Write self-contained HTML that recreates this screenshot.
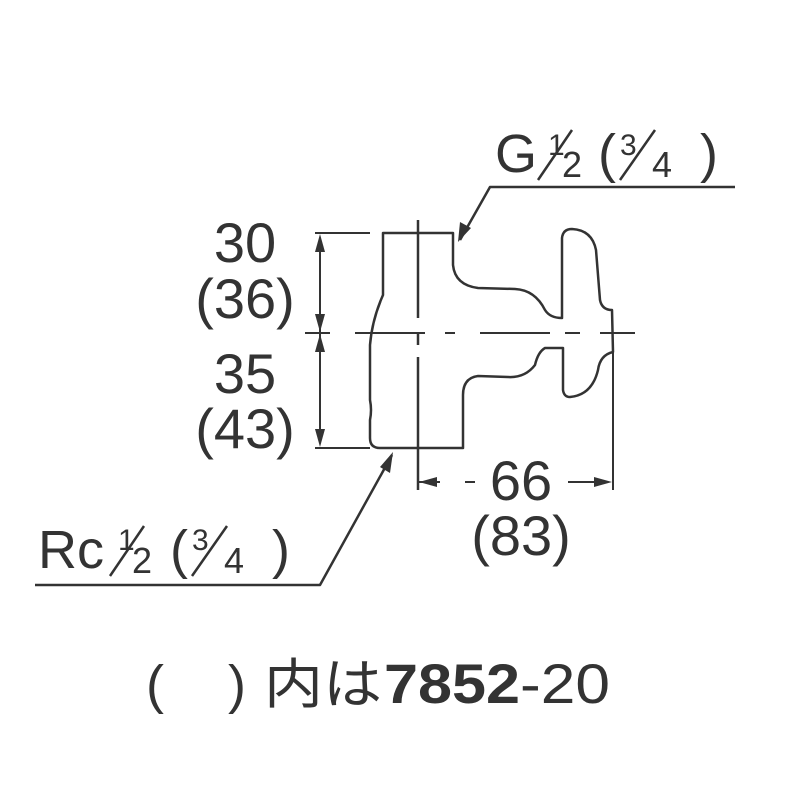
<!DOCTYPE html>
<html><head><meta charset="utf-8"><style>html,body{margin:0;padding:0;background:#fff}</style></head>
<body>
<svg width="800" height="800" viewBox="0 0 800 800" xmlns="http://www.w3.org/2000/svg" font-family="'Liberation Sans','Noto Sans CJK JP',sans-serif" fill="#333">
<g fill="none" stroke="#333" stroke-width="2.5" stroke-linejoin="round">
<path d="M383,233 L453,233 L453,265 Q455,285 478,288 L515,289 Q535,290 545,310 Q550,318 562,318 L562,238 Q563,229 572,229 Q592,230 596,250 L600,300 Q602,310 612,310 L613,352 Q600,355 598,370 Q592,395 570,397 Q564,397 563,390 L563,348 L545,348 Q538,352 535,365 Q525,378 508,377 L478,376 Q463,378 463,395 L463,448 L380,448 Q370,448 370,438 L370,420 Q372,410 370,400 L370,345 Q372,320 383,295 Z"/>
<path d="M418,220 L418,318 M418,332 L418,345 M418,357 L418,490" />
<path d="M305,333 L330,333 M355,333 L425,333 M445,333 L455,333 M480,333 L550,333 M565,333 L580,333 M600,333 L635,333" stroke-width="2"/>
<path d="M315,233 L370,233 M315,448 L370,448 M320,240 L320,440" stroke-width="2"/>
<path d="M613,352 L613,490 M418,482 L440,482 M465,482 L475,482 M568,482 L600,482" stroke-width="2"/>
<path d="M460,240 L490,187 L735,187" stroke-width="2.5"/>
<path d="M392,455 L320,585 L35,585" stroke-width="2.5"/>
</g>
<g fill="#333">
<polygon points="320,234 315,252 325,252"/>
<polygon points="320,332 315,314 325,314"/>
<polygon points="320,334 315,352 325,352"/>
<polygon points="320,447 315,429 325,429"/>
<polygon points="419,482 437,477 437,487"/>
<polygon points="612,482 594,477 594,487"/>
<polygon points="458,242 460,222 471,228"/>
<polygon points="393,452 380,467 390,473"/>
</g>
<g font-size="56" text-anchor="middle">
<text x="245" y="262">30</text>
<text x="245" y="318">(36)</text>
<text x="245" y="393">35</text>
<text x="245" y="448">(43)</text>
<text x="521" y="500">66</text>
<text x="521" y="555">(83)</text>
</g>
<text x="495" y="172" font-size="54">G</text>
<text x="548" y="155" font-size="30">1</text>
<line x1="538" y1="180" x2="572" y2="130" stroke="#333" stroke-width="2.5"/>
<text x="562" y="177" font-size="36">2</text>
<text x="598" y="172" font-size="54">(</text>
<text x="620" y="155" font-size="30">3</text>
<line x1="620" y1="180" x2="655" y2="130" stroke="#333" stroke-width="2.5"/>
<text x="652" y="177" font-size="36">4</text>
<text x="700" y="172" font-size="54">)</text>
<text x="38" y="568" font-size="54">Rc</text>
<text x="118" y="550" font-size="30">1</text>
<line x1="110" y1="576" x2="144" y2="526" stroke="#333" stroke-width="2.5"/>
<text x="132" y="573" font-size="36">2</text>
<text x="170" y="568" font-size="54">(</text>
<text x="192" y="550" font-size="30">3</text>
<line x1="192" y1="576" x2="227" y2="526" stroke="#333" stroke-width="2.5"/>
<text x="224" y="573" font-size="36">4</text>
<text x="272" y="568" font-size="54">)</text>
<text x="146" y="703" font-size="54">(</text>
<text x="228" y="703" font-size="54">)</text>
<text x="264" y="703" font-size="54" textLength="118" lengthAdjust="spacingAndGlyphs">内は</text>
<text x="384" y="703" font-size="56" font-weight="bold" textLength="136" lengthAdjust="spacingAndGlyphs">7852</text>
<text x="520" y="703" font-size="56" textLength="90" lengthAdjust="spacingAndGlyphs">-20</text>
</svg>
</body></html>
